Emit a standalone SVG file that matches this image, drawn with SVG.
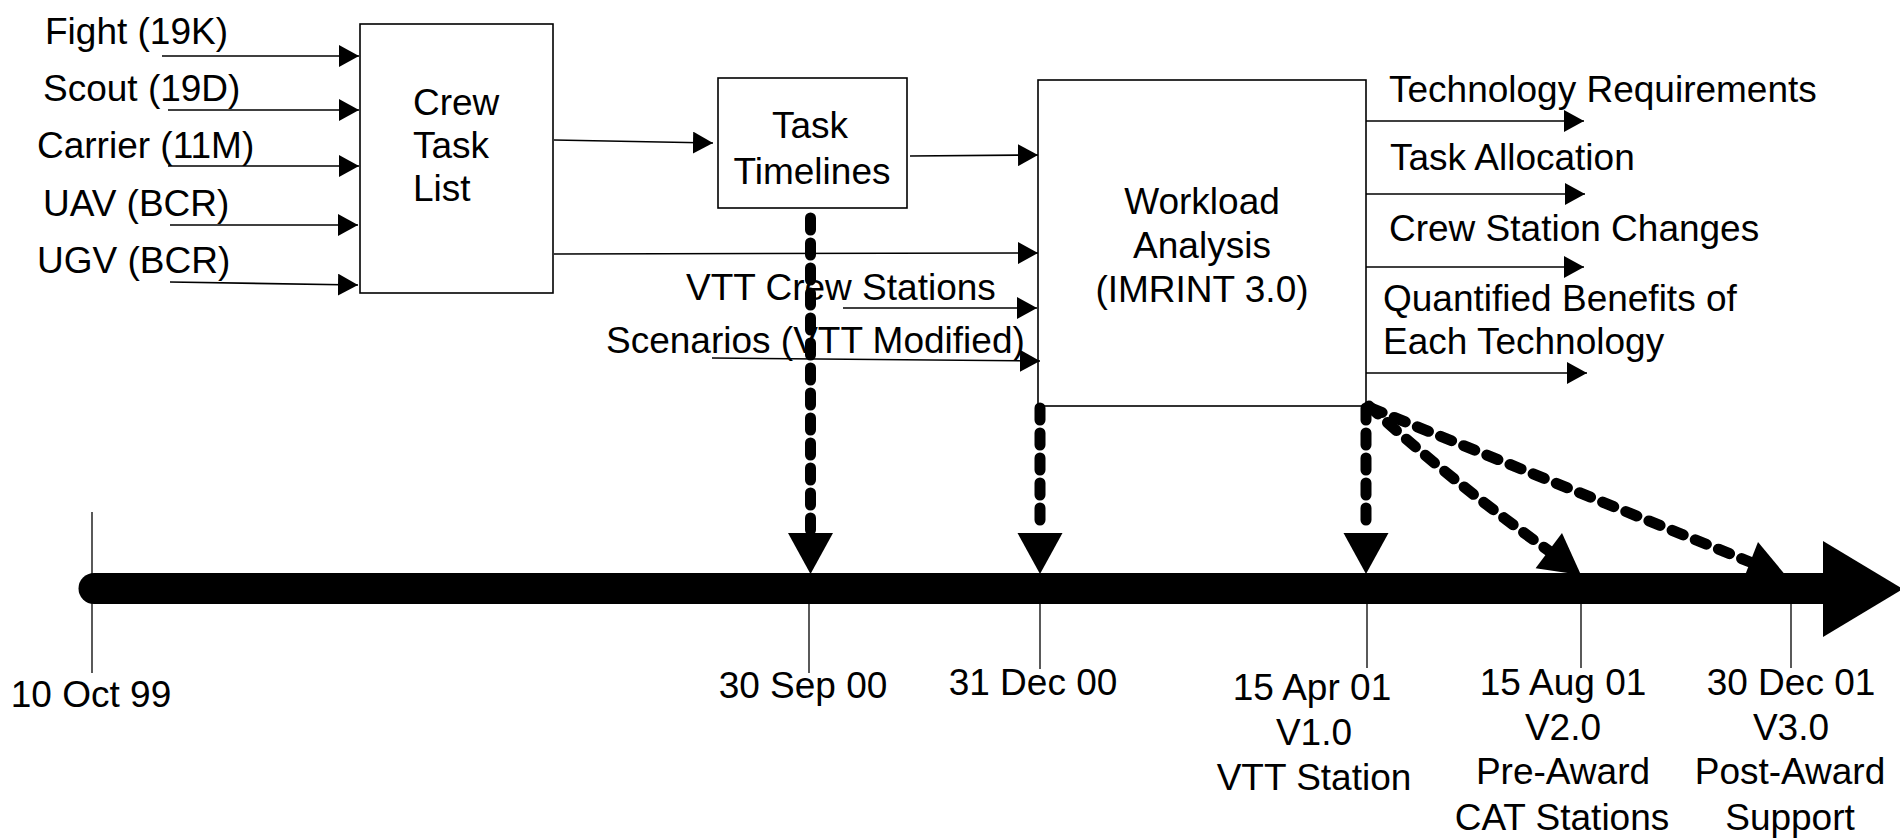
<svg xmlns="http://www.w3.org/2000/svg" width="1900" height="839" viewBox="0 0 1900 839">
<style>
text{font-family:"Liberation Sans",Arial,sans-serif;font-size:37px;fill:#000}
.c{text-anchor:middle}
.box{fill:#fff;stroke:#000;stroke-width:1.6}
.ln{fill:none;stroke:#000;stroke-width:1.6}
.tk{fill:none;stroke:#000;stroke-width:1.3}
.dash{fill:none;stroke:#000;stroke-width:11;stroke-linecap:round;stroke-dasharray:12 13}
.ah{fill:#000}
</style>
<defs>
<marker id="arr" markerUnits="userSpaceOnUse" viewBox="0 0 20 22" refX="20" refY="11" markerWidth="20" markerHeight="22" orient="auto">
<path d="M0,0 L20,11 L0,22 z" fill="#000"/>
</marker>
</defs>
<rect width="1900" height="839" fill="#fff"/>

<g id="crew-task-list">
<rect class="box" x="360" y="24" width="193" height="269"/>
<text x="413" y="115">Crew</text>
<text x="413" y="158">Task</text>
<text x="413" y="201">List</text>
</g>

<g id="task-timelines">
<rect class="box" x="718" y="78" width="189" height="130"/>
<text class="c" x="810" y="138">Task</text>
<text class="c" x="812" y="184">Timelines</text>
</g>

<g id="workload-analysis">
<rect class="box" x="1038" y="80" width="328" height="326"/>
<text class="c" x="1202" y="214">Workload</text>
<text class="c" x="1202" y="258">Analysis</text>
<text class="c" x="1202" y="302">(IMRINT 3.0)</text>
</g>

<g id="input-labels">
<text x="45" y="44">Fight (19K)</text>
<text x="43" y="101">Scout (19D)</text>
<text x="37" y="158">Carrier (11M)</text>
<text x="43" y="216">UAV (BCR)</text>
<text x="37" y="273">UGV (BCR)</text>
<text x="686" y="300">VTT Crew Stations</text>
<text x="606" y="353">Scenarios (VTT Modified)</text>
</g>

<g id="output-labels">
<text x="1389" y="102">Technology Requirements</text>
<text x="1390" y="170">Task Allocation</text>
<text x="1389" y="241">Crew Station Changes</text>
<text x="1383" y="311">Quantified Benefits of</text>
<text x="1383" y="354">Each Technology</text>
</g>

<g id="connectors">
<line class="ln" x1="162" y1="56" x2="359" y2="56" marker-end="url(#arr)"/>
<line class="ln" x1="168" y1="110" x2="359" y2="110" marker-end="url(#arr)"/>
<line class="ln" x1="168" y1="166" x2="359" y2="166" marker-end="url(#arr)"/>
<line class="ln" x1="170" y1="225" x2="358" y2="225" marker-end="url(#arr)"/>
<line class="ln" x1="170" y1="282" x2="358" y2="285" marker-end="url(#arr)"/>
<line class="ln" x1="554" y1="140" x2="713" y2="143" marker-end="url(#arr)"/>
<line class="ln" x1="554" y1="254" x2="1038" y2="253" marker-end="url(#arr)"/>
<line class="ln" x1="910" y1="156" x2="1038" y2="155" marker-end="url(#arr)"/>
<line class="ln" x1="843" y1="308" x2="1037" y2="308" marker-end="url(#arr)"/>
<line class="ln" x1="712" y1="358" x2="1040" y2="361" marker-end="url(#arr)"/>
<line class="ln" x1="1366" y1="121" x2="1584" y2="121" marker-end="url(#arr)"/>
<line class="ln" x1="1366" y1="194" x2="1585" y2="194" marker-end="url(#arr)"/>
<line class="ln" x1="1366" y1="267" x2="1584" y2="267" marker-end="url(#arr)"/>
<line class="ln" x1="1366" y1="373" x2="1587" y2="373" marker-end="url(#arr)"/>

<line class="dash" x1="810.5" y1="218" x2="810.5" y2="533"/>
<polygon class="ah" points="788,533 833,533 810.5,574"/>
<line class="dash" x1="1040" y1="408" x2="1040" y2="533"/>
<polygon class="ah" points="1017.5,533 1062.5,533 1040,574"/>
<line class="dash" x1="1366" y1="408" x2="1366" y2="533"/>
<polygon class="ah" points="1343.5,533 1388.5,533 1366,574"/>
<path class="dash" d="M1369,406 Q1450,480 1549,551"/>
<polygon class="ah" points="1562,533 1535.6,568.2 1581,575"/>
<path class="dash" d="M1371,408 L1750,562"/>
<polygon class="ah" points="1758,542 1742,583 1787,577"/>
</g>

<g id="timeline">
<line x1="94" y1="588.5" x2="1825" y2="588.5" stroke="#000" stroke-width="31" stroke-linecap="round"/>
<polygon class="ah" points="1823,541 1903,589 1823,637"/>
<line class="tk" x1="92" y1="512" x2="92" y2="673"/>
<line class="tk" x1="809" y1="588" x2="809" y2="673"/>
<line class="tk" x1="1040" y1="588" x2="1040" y2="669"/>
<line class="tk" x1="1367" y1="588" x2="1367" y2="668"/>
<line class="tk" x1="1581" y1="588" x2="1581" y2="668"/>
<line class="tk" x1="1791" y1="588" x2="1791" y2="668"/>
</g>

<g id="dates">
<text class="c" x="91" y="707">10 Oct 99</text>
<text class="c" x="803" y="698">30 Sep 00</text>
<text class="c" x="1033" y="695">31 Dec 00</text>
<text class="c" x="1312" y="700">15 Apr 01</text>
<text class="c" x="1314" y="745">V1.0</text>
<text class="c" x="1314" y="790">VTT Station</text>
<text class="c" x="1563" y="695">15 Aug 01</text>
<text class="c" x="1563" y="740">V2.0</text>
<text class="c" x="1563" y="784">Pre-Award</text>
<text class="c" x="1562" y="830">CAT Stations</text>
<text class="c" x="1791" y="695">30 Dec 01</text>
<text class="c" x="1791" y="740">V3.0</text>
<text class="c" x="1790" y="784">Post-Award</text>
<text class="c" x="1790" y="830">Support</text>
</g>
</svg>
